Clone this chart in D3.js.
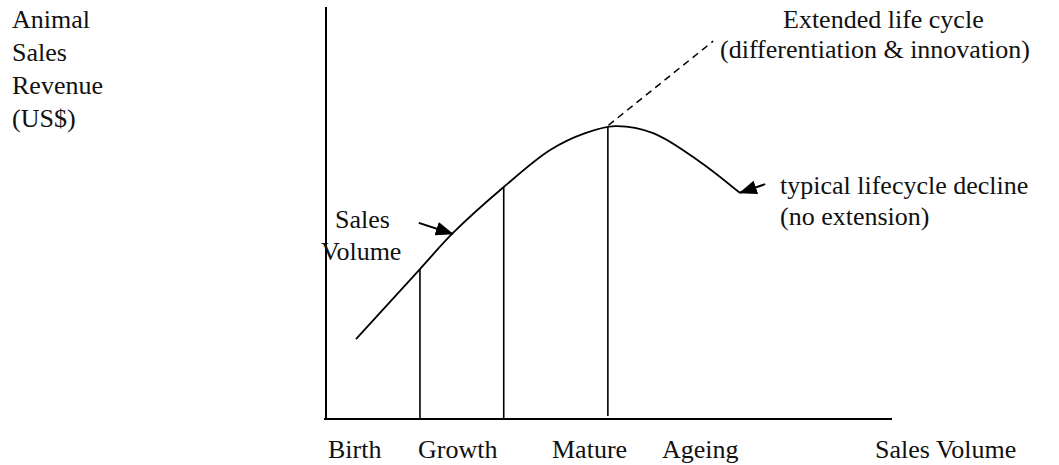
<!DOCTYPE html>
<html>
<head>
<meta charset="utf-8">
<script src="https://cdn.jsdelivr.net/npm/d3@7"></script>
<style>
  body { margin: 0; background: #fff; }
  svg text { font-family: 'Liberation Serif', 'Times New Roman', Times, 'DejaVu Serif', serif; font-size: 26px; fill: #111; }
</style>
</head>
<body>
<svg id="viewer"></svg>
<script>
// product life cycle curve (x = time / volume, y = revenue), arbitrary 0-100 units
var curveX = [5.3, 16.6, 22.4, 31.4, 39.6, 45.8, 51.1, 57.8, 66.1, 73.1];
var curveY = [19.4, 36.4, 45.1, 56.3, 65.3, 69.4, 71.1, 69.4, 62.4, 54.9];

// stage boundaries (vertical lines) and where they meet the curve
var stageX = [16.6, 31.4, 49.8];
var stageTop = [36.4, 56.3, 70.8];
var stageBottom = [0, 0, 0.7];

// stage names under the axis
var stageNames = ['Birth', 'Growth', 'Mature', 'Ageing'];

// dashed extension from the peak
var extX = [49.9, 68.4];
var extY = [71.3, 91.7];

// annotation arrows: tail -> head
var arrowX = [[16.4, 22.4], [77.6, 73.1]];
var arrowY = [[47.6, 44.9], [57.0, 54.9]];

var W = 1059, H = 465;
var svg = d3.select('#viewer').attr('width', W).attr('height', H);

var x = d3.scaleLinear().domain([0, 100]).range([326, 892]);
var y = d3.scaleLinear().domain([0, 100]).range([419, 7]);

svg.append('defs').append('marker')
  .attr('id', 'head')
  .attr('markerUnits', 'userSpaceOnUse')
  .attr('viewBox', '0 0 18 14')
  .attr('refX', 17).attr('refY', 7)
  .attr('markerWidth', 18).attr('markerHeight', 14)
  .attr('orient', 'auto')
  .append('path')
    .attr('d', 'M0,0 L18,7 L0,14 Z')
    .style('fill', '#000');

// axes
svg.append('line')
  .attr('x1', x(0)).attr('x2', x(0))
  .attr('y1', y(100)).attr('y2', y(0))
  .style('stroke', '#000').style('stroke-width', 2);
svg.append('line')
  .attr('x1', x(0) - 2).attr('x2', x(100))
  .attr('y1', y(0)).attr('y2', y(0))
  .style('stroke', '#000').style('stroke-width', 2);

// stage lines
svg.selectAll('.stage')
  .data(stageX)
  .enter().append('line')
    .attr('class', 'stage')
    .attr('x1', function(d){return x(d);})
    .attr('x2', function(d){return x(d);})
    .attr('y1', function(d, i){return y(stageTop[i]);})
    .attr('y2', function(d, i){return y(stageBottom[i]);})
    .style('stroke', '#000').style('stroke-width', 1.6);

// main curve
var pts = curveX.map(function(v, i){return [v, curveY[i]];});
var line = d3.line()
  .x(function(d){return x(d[0]);})
  .y(function(d){return y(d[1]);})
  .curve(d3.curveCatmullRom.alpha(0.5));
svg.append('path')
  .attr('d', line(pts))
  .style('fill', 'none')
  .style('stroke', '#000')
  .style('stroke-width', 1.8);

// dashed extension
svg.append('path')
  .attr('d', d3.line()(extX.map(function(v, i){return [x(v), y(extY[i])];})))
  .style('stroke', '#000')
  .style('stroke-width', 1.5)
  .style('stroke-dasharray', '7,5');

// arrows
svg.selectAll('.arrow')
  .data(arrowX)
  .enter().append('line')
    .attr('class', 'arrow')
    .attr('x1', function(d){return x(d[0]);})
    .attr('x2', function(d){return x(d[1]);})
    .attr('y1', function(d, i){return y(arrowY[i][0]);})
    .attr('y2', function(d, i){return y(arrowY[i][1]);})
    .style('stroke', '#000').style('stroke-width', 2)
    .attr('marker-end', 'url(#head)');

// texts
function label(str, px, py) {
  svg.append('text').attr('x', px).attr('y', py).text(str);
}
['Animal', 'Sales', 'Revenue', '(US$)'].forEach(function(s, i){
  label(s, 12, 28 + i * 33);
});
var stageLabelX = [328, 418, 552, 662];
stageNames.forEach(function(s, i){ label(s, stageLabelX[i], 458); });
label('Sales Volume', 875, 458);

label('Sales', 335, 228);
label('Volume', 321, 260);

label('Extended life cycle', 783, 28);
label('(differentiation & innovation)', 720, 58);
label('typical lifecycle decline', 780, 194);
label('(no extension)', 780, 225);
</script>
</body>
</html>
